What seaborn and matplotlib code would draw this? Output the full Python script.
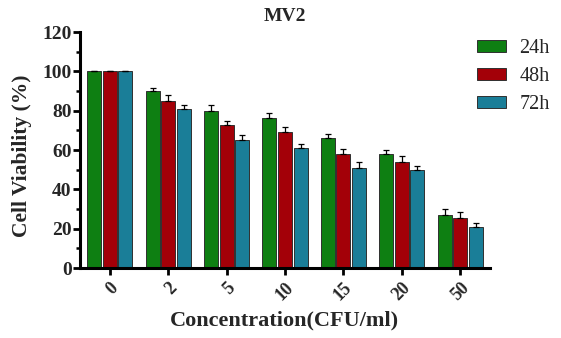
import matplotlib
matplotlib.use("Agg")
import matplotlib.pyplot as plt
import numpy as np
import pandas as pd
import seaborn as sns
from matplotlib.ticker import MultipleLocator

concentrations = ["0", "2", "5", "10", "15", "20", "50"]
times = ["24h", "48h", "72h"]

viability_24h = [100, 90.2, 79.8, 76.1, 65.9, 58.0, 27.0]
viability_48h = [100, 84.9, 72.9, 69.3, 58.0, 53.7, 25.6]
viability_72h = [100, 81.0, 64.9, 60.8, 50.7, 49.8, 21.0]

err_24h = [0, 1.5, 3.1, 2.6, 2.1, 1.8, 2.8]
err_48h = [0, 3.1, 2.0, 2.6, 2.5, 3.3, 3.0]
err_72h = [0, 1.7, 2.9, 2.1, 3.3, 2.1, 1.7]

colors = ["#0e7f12", "#a30008", "#1a7e98"]

df = pd.DataFrame({
    "conc": concentrations * 3,
    "time": np.repeat(times, len(concentrations)),
    "viability": viability_24h + viability_48h + viability_72h,
    "err": err_24h + err_48h + err_72h,
})

sns.set_theme(style="ticks")
plt.rcParams["font.family"] = ["Liberation Serif", "DejaVu Serif"]

fig = plt.figure(figsize=(5.61, 3.38), dpi=100)
ax = fig.add_axes([0.1426, 0.207, 0.730, 0.698])

sns.barplot(data=df, x="conc", y="viability", hue="time", order=concentrations,
            hue_order=times, palette=colors, saturation=1, width=0.8, gap=0.1,
            edgecolor="#303030", linewidth=0.7, errorbar=None, ax=ax, legend=True)

# upward-only error bars placed on the centres of the drawn bars
for cont, t in zip(ax.containers, times):
    sub = df[df["time"] == t]
    xs = [p.get_x() + p.get_width() / 2 for p in cont.patches]
    hs = [p.get_height() for p in cont.patches]
    errs = sub["err"].to_numpy()
    ax.errorbar(xs, hs, yerr=[np.zeros_like(errs), errs], fmt="none",
                ecolor="black", elinewidth=0.9, capsize=2.5, capthick=0.9, zorder=3)

ax.set_xlim(-0.51, 6.5)
ax.set_ylim(0, 120)
ax.yaxis.set_major_locator(MultipleLocator(20))
ax.yaxis.set_minor_locator(MultipleLocator(10))
sns.despine(ax=ax)
for s in ["left", "bottom"]:
    ax.spines[s].set_linewidth(2.2)
    ax.spines[s].set_color("black")
ax.tick_params(axis="both", which="major", width=2, length=5, color="black")
ax.tick_params(axis="y", which="minor", width=1.8, length=3, color="black")
ax.tick_params(axis="y", labelsize=14, pad=1)
ax.tick_params(axis="x", labelsize=13, pad=3)
for lbl in ax.get_yticklabels():
    lbl.set_fontweight("bold")
for lbl in ax.get_xticklabels():
    lbl.set_fontweight("bold")
    lbl.set_rotation(45)
    lbl.set_ha("right")
    lbl.set_rotation_mode("anchor")

ax.set_xlabel("Concentration(CFU/ml)", fontsize=16, fontweight="bold", labelpad=5)
ax.set_ylabel("Cell Viability (%)", fontsize=15.5, fontweight="bold")
ax.yaxis.set_label_coords(-0.118, 0.475)
ax.set_title("MV2", fontsize=14, fontweight="bold", pad=8)

handles, labels = ax.get_legend_handles_labels()
ax.get_legend().remove()
fig.legend(handles, labels, loc="upper left", bbox_to_anchor=(477 / 561, 1 - 39 / 338),
           frameon=False, fontsize=14.5, handlelength=1.45, handleheight=0.55,
           labelspacing=0.45, handletextpad=0.65, borderaxespad=0, borderpad=0)

fig.savefig("out.png", dpi=100)
